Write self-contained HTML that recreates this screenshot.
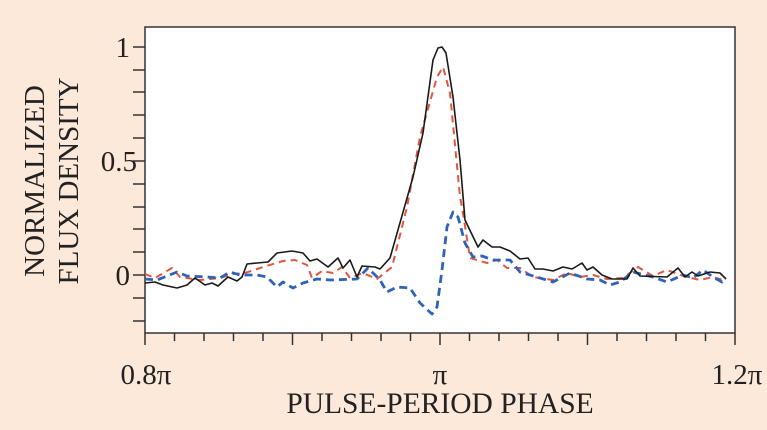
<!DOCTYPE html>
<html><head><meta charset="utf-8"><style>
html,body{margin:0;padding:0;background:#fde9da;}
svg{display:block}
text{font-family:"Liberation Serif",serif;fill:#222;}
</style></head><body>
<svg width="767" height="430" viewBox="0 0 767 430">
<rect width="767" height="430" fill="#fde9da"/>
<rect x="145" y="27" width="590" height="306" fill="#fff" stroke="#333" stroke-width="1.5"/>
<g stroke="#333" stroke-width="1.5">
<line x1="133" y1="47" x2="145" y2="47"/><line x1="133" y1="70" x2="145" y2="70"/><line x1="133" y1="92" x2="145" y2="92"/><line x1="133" y1="115" x2="145" y2="115"/><line x1="133" y1="138" x2="145" y2="138"/><line x1="133" y1="161" x2="145" y2="161"/><line x1="133" y1="184" x2="145" y2="184"/><line x1="133" y1="207" x2="145" y2="207"/><line x1="133" y1="229" x2="145" y2="229"/><line x1="133" y1="252" x2="145" y2="252"/><line x1="133" y1="275" x2="145" y2="275"/><line x1="133" y1="298" x2="145" y2="298"/><line x1="133" y1="321" x2="145" y2="321"/>
<line x1="145" y1="333" x2="145" y2="345"/><line x1="440" y1="333" x2="440" y2="345"/><line x1="735" y1="333" x2="735" y2="345"/>
<line x1="174.5" y1="333" x2="174.5" y2="341"/><line x1="204" y1="333" x2="204" y2="341"/><line x1="233.5" y1="333" x2="233.5" y2="341"/><line x1="263" y1="333" x2="263" y2="341"/><line x1="292.5" y1="333" x2="292.5" y2="345"/><line x1="322" y1="333" x2="322" y2="341"/><line x1="351.5" y1="333" x2="351.5" y2="341"/><line x1="381" y1="333" x2="381" y2="341"/><line x1="410.5" y1="333" x2="410.5" y2="341"/>
<line x1="469.5" y1="333" x2="469.5" y2="341"/><line x1="499" y1="333" x2="499" y2="341"/><line x1="528.5" y1="333" x2="528.5" y2="341"/><line x1="558" y1="333" x2="558" y2="341"/><line x1="587.5" y1="333" x2="587.5" y2="345"/><line x1="617" y1="333" x2="617" y2="341"/><line x1="646.5" y1="333" x2="646.5" y2="341"/><line x1="676" y1="333" x2="676" y2="341"/><line x1="705.5" y1="333" x2="705.5" y2="341"/>
</g>
<polyline fill="none" stroke="#e0573f" stroke-width="2" stroke-dasharray="7,5" stroke-linejoin="round" points="145,274 155,278 172,268 180,277 200,280 220,278 233,274 245,273 263,267 283,261 295,260 307,265 312,278 322,271 333,273 342,267 350,278 363,273 377,279 392,267 407,207 420,137 437,77 443,67 450,93 460,197 462,207 470,258 487,263 497,260 507,268 520,268 533,277 553,280 567,273 580,277 593,275 607,279 623,278 638,267 653,276 667,270 683,276 700,280 713,277 726,281"/>
<polyline fill="none" stroke="#2f63b8" stroke-width="2.8" stroke-dasharray="8,5" stroke-linejoin="round" points="145,279 157,280 177,272 187,276 207,277 220,278 230,272 240,275 257,275 267,277 277,287 283,282 293,288 303,283 317,279 330,280 357,279 368,268 380,280 387,292 397,287 410,288 420,303 432,314 437,307 442,270 447,227 453,212 458,217 465,243 473,257 482,256 493,260 510,260 520,272 540,278 553,282 570,273 587,279 600,280 610,285 620,282 633,272 653,277 667,282 683,275 693,278 703,270 713,277 722,282 726,278"/>
<polyline fill="none" stroke="#1a1a1a" stroke-width="1.6" stroke-linejoin="round" points="145,283 155,282 163,285 177,288 187,285 195,278 205,285 212,283 218,286 228,277 237,281 242,277 247,264 257,263 268,262 277,253 292,251 303,253 310,261 317,259 328,267 338,258 343,268 350,260 357,277 362,266 375,267 380,269 390,258 413,177 423,133 433,60 438,48 442,47 446,53 453,97 460,160 465,220 478,247 483,240 492,247 500,247 510,251 520,259 528,258 535,269 543,269 553,271 563,267 572,269 582,263 587,270 593,267 602,275 612,279 627,279 633,268 640,276 667,277 678,268 685,277 692,272 698,276 710,272 720,273 726,279"/>
<g font-size="29" text-anchor="end">
<text x="130" y="57">1</text><text x="137" y="171">0.5</text><text x="130" y="285">0</text>
</g>
<g font-size="29" text-anchor="middle">
<text x="146" y="384">0.8π</text><text x="440" y="384">π</text><text x="737" y="384">1.2π</text>
<text x="440" y="413" font-size="29.5">PULSE-PERIOD PHASE</text>
<text transform="translate(44,181) rotate(-90)" font-size="29">NORMALIZED</text>
<text transform="translate(78,181) rotate(-90)" font-size="29">FLUX DENSITY</text>
</g>
</svg>
</body></html>
